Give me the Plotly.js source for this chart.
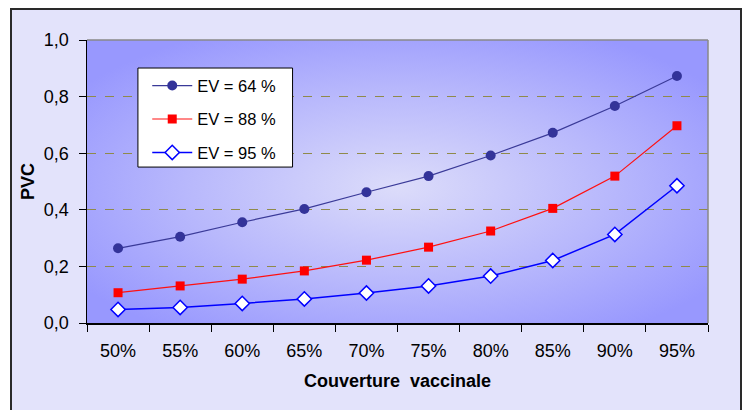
<!DOCTYPE html>
<html>
<head>
<meta charset="utf-8">
<script src="https://cdn.plot.ly/plotly-3.0.1.min.js"></script>
<style>
  html, body { margin: 0; padding: 0; background: #fff; }
  #frame {
    position: absolute; left: 10px; top: 8px; width: 728px; height: 410px;
    background: #e3e3fb; border: 2px solid #2a2a2a; z-index: 0;
  }
  #chart { position: absolute; left: 0; top: 0; width: 744px; height: 410px; z-index: 1; }
</style>
</head>
<body>
<div id="frame"></div>
<div id="chart"></div>
<script>
// Couverture vaccinale (axe x)
const couverture = ['50%', '55%', '60%', '65%', '70%', '75%', '80%', '85%', '90%', '95%'];

// PVC selon l'efficacité vaccinale
const pvcEv64 = [0.264, 0.305, 0.356, 0.403, 0.462, 0.519, 0.592, 0.672, 0.767, 0.873];
const pvcEv88 = [0.107, 0.131, 0.155, 0.184, 0.222, 0.268, 0.325, 0.405, 0.519, 0.697];
const pvcEv95 = [0.048, 0.055, 0.069, 0.085, 0.106, 0.131, 0.166, 0.221, 0.313, 0.485];

const FONT = 'Liberation Sans, Arial, sans-serif';

// dégradé radial du fond de la zone de tracé
const bgSvg =
  '<svg xmlns="http://www.w3.org/2000/svg" width="621" height="283" viewBox="0 0 621 283" preserveAspectRatio="none">' +
  '<defs><radialGradient id="g" cx="0.5" cy="0.52" r="0.62" gradientUnits="objectBoundingBox">' +
  '<stop offset="0" stop-color="#dcdcfa"/><stop offset="0.55" stop-color="#b8b8fc"/>' +
  '<stop offset="1" stop-color="#9898fe"/></radialGradient></defs>' +
  '<rect width="621" height="283" fill="url(#g)"/></svg>';

const traces = [
  {
    x: couverture, y: pvcEv64, name: 'EV = 64 %', type: 'scatter', mode: 'lines+markers',
    legendgroup: 'a',
    line: { color: '#3a3a98', width: 1.2 },
    marker: { symbol: 'circle', size: 10, color: '#333399' },
  },
  {
    x: couverture, y: pvcEv88, name: 'EV = 88 %', type: 'scatter', mode: 'lines+markers',
    legendgroup: 'b',
    line: { color: '#ff1010', width: 1.2 },
    marker: { symbol: 'square', size: 9, color: '#ff0000' },
  },
  {
    x: couverture, y: pvcEv95, name: 'EV = 95 %', type: 'scatter', mode: 'lines+markers',
    legendgroup: 'c',
    line: { color: '#0000ff', width: 1.5 },
    marker: { symbol: 'diamond', size: 11, color: '#ffffff', line: { color: '#0000ff', width: 1.5 } },
  },
];

const layout = {
  width: 744, height: 410,
  margin: { l: 87, r: 36, t: 40, b: 87 },
  paper_bgcolor: 'rgba(0,0,0,0)',
  plot_bgcolor: '#9c9cfd',
  separators: ', ',
  font: { family: FONT, size: 18, color: '#000' },
  showlegend: true,
  // légende sans cadre : le cadre blanc est une forme, pour laisser la marge gauche
  legend: {
    x: 0.097, y: 0.90, xanchor: 'left', yanchor: 'top',
    bgcolor: 'rgba(0,0,0,0)', borderwidth: 0,
    font: { family: FONT, size: 16.5, color: '#000' },
    itemwidth: 40, tracegroupgap: 9,
  },
  xaxis: {
    type: 'category', tickson: 'boundaries', ticks: 'outside', ticklen: 7,
    tickcolor: '#000', showline: true, linecolor: '#000', linewidth: 1.5,
    showgrid: false, zeroline: false, mirror: false,
    range: [-0.5, 9.5], ticklabelstandoff: 11,
    tickfont: { family: FONT, size: 18 },
    title: { text: '<b>Couverture  vaccinale</b>', font: { family: FONT, size: 18 }, standoff: 14 },
  },
  yaxis: {
    range: [0, 1], dtick: 0.2, tickformat: '.1f', ticks: 'outside', ticklen: 7,
    tickcolor: '#000', showline: true, linecolor: '#000', linewidth: 1.5,
    showgrid: true, gridcolor: '#8f8a4a', griddash: 'dash', gridwidth: 1,
    zeroline: false, ticklabelstandoff: 6,
    tickfont: { family: FONT, size: 18 },
    title: { text: '<b>PVC</b>', font: { family: FONT, size: 18 }, standoff: 4 },
  },
  images: [{
    source: 'data:image/svg+xml;charset=utf-8,' + encodeURIComponent(bgSvg),
    xref: 'paper', yref: 'paper', x: 0, y: 1, sizex: 1, sizey: 1,
    sizing: 'stretch', xanchor: 'left', yanchor: 'top', layer: 'below',
  }],
  shapes: [
    // bordure grise haut et droite de la zone de tracé
    { type: 'line', xref: 'paper', yref: 'paper', x0: 0, x1: 1, y0: 1, y1: 1, line: { color: '#888', width: 1.5 } },
    { type: 'line', xref: 'paper', yref: 'paper', x0: 1, x1: 1, y0: 0, y1: 1, line: { color: '#888', width: 1.5 } },
    // cadre de la légende
    { type: 'rect', xref: 'paper', yref: 'paper', x0: 0.082, x1: 0.331, y0: 0.551, y1: 0.901,
      fillcolor: '#ffffff', line: { color: '#000', width: 1 }, layer: 'above' },
  ],
};

Plotly.newPlot('chart', traces, layout, { displayModeBar: false, staticPlot: true });
</script>
</body>
</html>
